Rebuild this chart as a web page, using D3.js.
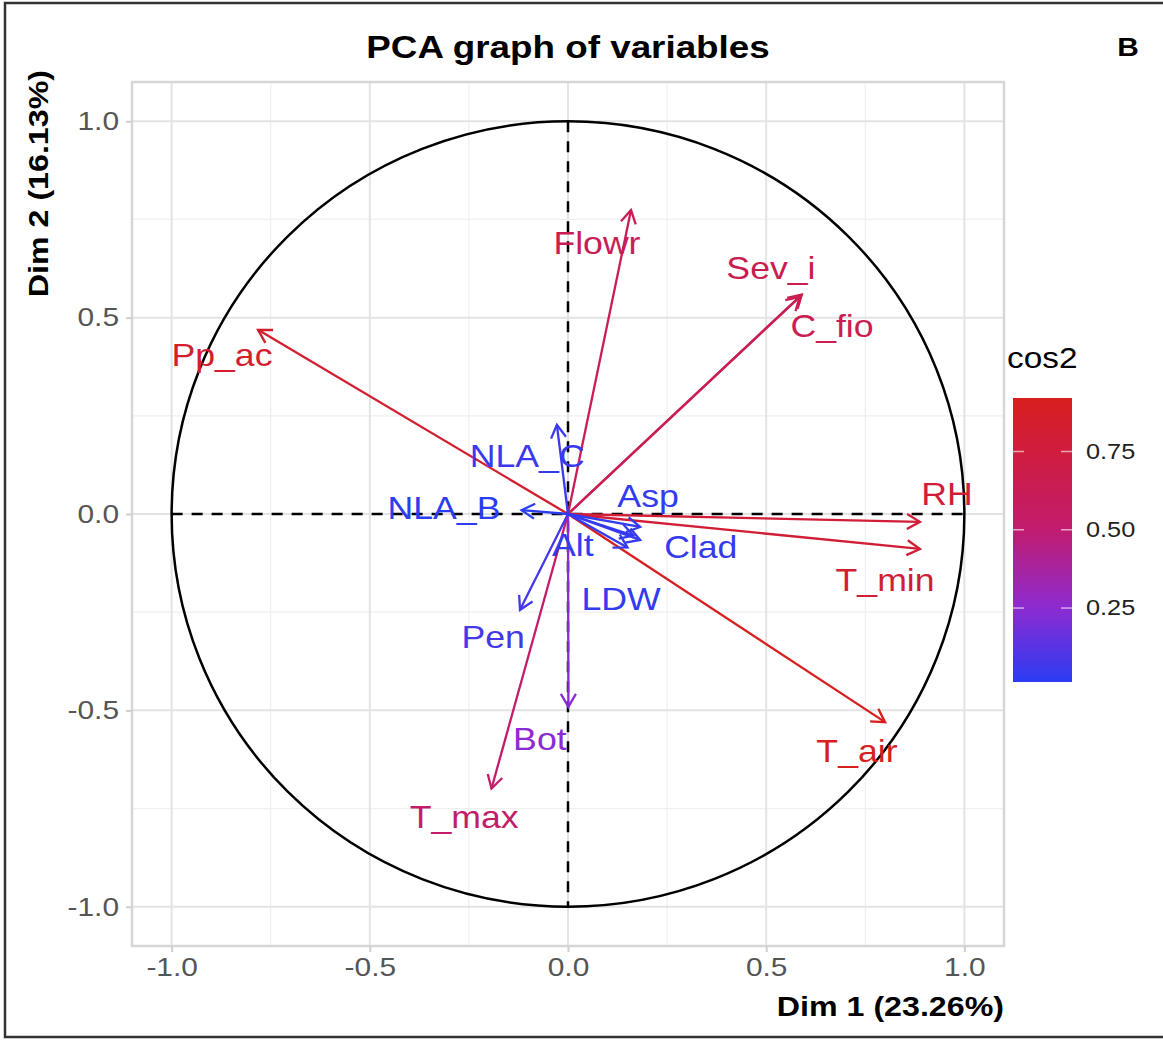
<!DOCTYPE html>
<html>
<head>
<meta charset="utf-8">
<script src="https://cdn.jsdelivr.net/npm/d3@7"></script>
<style>
  body { margin: 0; background: #fff; }
  text { font-family: "Liberation Sans", Arial, sans-serif; }
</style>
</head>
<body>
<div id="container"></div>
<script>
// variables of the PCA (coordinates on Dim 1 / Dim 2)
var variables = ["Pp_ac", "Flowr", "Sev_i", "C_fio", "RH", "T_min", "T_air", "T_max",
                 "Bot", "Pen", "LDW", "Alt", "Clad", "Asp", "NLA_C", "NLA_B"]
var dim1 = [-0.782, 0.159, 0.590, 0.585, 0.888, 0.888, 0.800, -0.193,
            0.001, -0.121, 0.165, 0.150, 0.182, 0.182, -0.028, -0.117]
var dim2 = [0.469, 0.774, 0.559, 0.553, -0.020, -0.089, -0.530, -0.699,
            -0.491, -0.244, -0.055, -0.085, -0.066, -0.033, 0.227, 0.010]
// label positions after repel (data units)
var labelX = [-0.873, 0.073, 0.512, 0.666, 0.956, 0.800, 0.729, -0.262,
              -0.071, -0.189, 0.134, 0.012, 0.335, 0.202, -0.103, -0.313]
var labelY = [0.404, 0.689, 0.625, 0.478, 0.051, -0.168, -0.605, -0.773,
              -0.574, -0.315, -0.216, -0.081, -0.086, 0.046, 0.147, 0.015]

var axisTicks = [-1.0, -0.5, 0.0, 0.5, 1.0]
var minorTicks = [-0.75, -0.25, 0.25, 0.75]
var legendTicks = [0.25, 0.50, 0.75]
// colour ramp (value -> colour)
var rampValues = [0.25, 0.50]
var rampColors = ["#2b3cf2", "#8c2bd2", "#c21c6e", "#d81e1e"]

var W = 1163, H = 1051
var panel = { left: 132, right: 1004, top: 82, bottom: 946 }
var sx = 1.15  // text in the source is a bit wider than Arial

var svg = d3.select("#container").append("svg")
  .attr("width", W).attr("height", H)

var x = d3.scaleLinear().domain([-1.1, 1.1]).range([panel.left, panel.right])
var y = d3.scaleLinear().domain([-1.1, 1.1]).range([panel.bottom, panel.top])
var fmt = function(d) { return d3.format(".1f")(d).replace("\u2212", "-") }

function txt(g, px, py, s, o) {
  o = o || {}
  var t = "translate(" + px + "," + py + ")"
  if (o.rotate) t += " rotate(" + o.rotate + ")"
  t += " scale(" + sx + ",1)"
  return g.append("text")
    .attr("transform", t)
    .attr("font-size", o.size || 26)
    .attr("font-weight", o.bold ? "bold" : "normal")
    .attr("fill", o.fill || "#000")
    .attr("text-anchor", o.anchor || "start")
    .attr("dominant-baseline", o.baseline || "auto")
    .text(s)
}

// cos2 = squared length on the plane
var data = variables.map(function(v, i) {
  return { name: v, x: dim1[i], y: dim2[i], lx: labelX[i], ly: labelY[i],
           cos2: dim1[i] * dim1[i] + dim2[i] * dim2[i] }
})

var cmin = d3.min(data, function(d) { return d.cos2 })
var cmax = d3.max(data, function(d) { return d.cos2 })
var colorOf = d3.scaleLinear()
  .domain([cmin].concat(rampValues, [cmax]))
  .range(rampColors)
  .interpolate(d3.interpolateRgb)

// outer frame
svg.append("rect")
  .attr("x", 5).attr("y", 3).attr("width", W + 10).attr("height", 1034)
  .attr("fill", "none").attr("stroke", "#333").attr("stroke-width", 2.5)

// grid
var grid = svg.append("g")
grid.selectAll(".minx").data(minorTicks).enter().append("line")
  .attr("x1", function(d) { return x(d) }).attr("x2", function(d) { return x(d) })
  .attr("y1", panel.top).attr("y2", panel.bottom)
  .attr("stroke", "#efefef").attr("stroke-width", 1.2)
grid.selectAll(".miny").data(minorTicks).enter().append("line")
  .attr("y1", function(d) { return y(d) }).attr("y2", function(d) { return y(d) })
  .attr("x1", panel.left).attr("x2", panel.right)
  .attr("stroke", "#efefef").attr("stroke-width", 1.2)
grid.selectAll(".majx").data(axisTicks).enter().append("line")
  .attr("x1", function(d) { return x(d) }).attr("x2", function(d) { return x(d) })
  .attr("y1", panel.top).attr("y2", panel.bottom)
  .attr("stroke", "#e3e3e3").attr("stroke-width", 2)
grid.selectAll(".majy").data(axisTicks).enter().append("line")
  .attr("y1", function(d) { return y(d) }).attr("y2", function(d) { return y(d) })
  .attr("x1", panel.left).attr("x2", panel.right)
  .attr("stroke", "#e3e3e3").attr("stroke-width", 2)

// panel border
svg.append("rect")
  .attr("x", panel.left).attr("y", panel.top)
  .attr("width", panel.right - panel.left).attr("height", panel.bottom - panel.top)
  .attr("fill", "none").attr("stroke", "#d6d6d6").attr("stroke-width", 2.5)

// axes (ticks + labels)
var xAxis = svg.append("g").attr("transform", "translate(0," + panel.bottom + ")")
  .call(d3.axisBottom(x).tickValues(axisTicks).tickFormat(fmt).tickSize(6).tickPadding(6))
var yAxis = svg.append("g").attr("transform", "translate(" + panel.left + ",0)")
  .call(d3.axisLeft(y).tickValues(axisTicks).tickFormat(fmt).tickSize(6).tickPadding(7))
;[xAxis, yAxis].forEach(function(a) {
  a.select(".domain").remove()
  a.selectAll(".tick line").attr("stroke", "#cfcfcf").attr("stroke-width", 2)
  a.selectAll(".tick text").attr("font-size", 26).attr("fill", "#555")
    .attr("font-family", "Liberation Sans, Arial, sans-serif")
})
xAxis.selectAll(".tick text").attr("transform", "scale(" + sx + ",1)")
yAxis.selectAll(".tick text").attr("transform", "translate(-13,0) scale(" + sx + ",1) translate(13,0)")

// dashed axes through the origin
svg.append("line")
  .attr("x1", x(-1)).attr("x2", x(1)).attr("y1", y(0)).attr("y2", y(0))
  .attr("stroke", "#000").attr("stroke-width", 2.5).attr("stroke-dasharray", "11,9")
svg.append("line")
  .attr("x1", x(0)).attr("x2", x(0)).attr("y1", y(1)).attr("y2", y(-1))
  .attr("stroke", "#000").attr("stroke-width", 2.5).attr("stroke-dasharray", "11,9")

// correlation circle
svg.append("ellipse")
  .attr("cx", x(0)).attr("cy", y(0))
  .attr("rx", x(1) - x(0)).attr("ry", y(0) - y(1))
  .attr("fill", "none").attr("stroke", "#000").attr("stroke-width", 2.5)

// arrows
var arrows = svg.append("g")
data.forEach(function(d) {
  var c = colorOf(d.cos2)
  var x0 = x(0), y0 = y(0), x1 = x(d.x), y1 = y(d.y)
  var ang = Math.atan2(y1 - y0, x1 - x0)
  var len = 15, spread = Math.PI / 6
  arrows.append("line")
    .attr("x1", x0).attr("y1", y0).attr("x2", x1).attr("y2", y1)
    .attr("stroke", c).attr("stroke-width", 2.3)
  arrows.append("path")
    .attr("d", "M" + (x1 - len * Math.cos(ang - spread)) + "," + (y1 - len * Math.sin(ang - spread)) +
               "L" + x1 + "," + y1 +
               "L" + (x1 - len * Math.cos(ang + spread)) + "," + (y1 - len * Math.sin(ang + spread)))
    .attr("fill", "none").attr("stroke", c).attr("stroke-width", 2.3)
    .attr("stroke-linejoin", "miter")
})

// labels
var labels = svg.append("g")
data.forEach(function(d) {
  txt(labels, x(d.lx), y(d.ly), d.name,
      { size: 31, fill: colorOf(d.cos2), anchor: "middle", baseline: "central" })
})

// titles
txt(svg, (panel.left + panel.right) / 2, 58, "PCA graph of variables", { size: 32, bold: true, anchor: "middle" })
txt(svg, 1128, 56, "B", { size: 26, bold: true, anchor: "middle" })
txt(svg, panel.right, 1016, "Dim 1 (23.26%)", { size: 28, bold: true, anchor: "end" })
txt(svg, 48, panel.top - 12, "Dim 2 (16.13%)", { size: 28, bold: true, anchor: "end", rotate: -90 })

// legend
var leg = { x: 1013, w: 59, top: 398, bottom: 682 }
var ly = d3.scaleLinear().domain([cmin, cmax]).range([leg.bottom, leg.top])
var defs = svg.append("defs")
var lg = defs.append("linearGradient").attr("id", "cosgrad")
  .attr("x1", 0).attr("y1", 1).attr("x2", 0).attr("y2", 0)
d3.range(0, 1.0001, 0.05).forEach(function(t) {
  lg.append("stop").attr("offset", t).attr("stop-color", colorOf(cmin + t * (cmax - cmin)))
})
txt(svg, 1007, 368, "cos2", { size: 29 })
svg.append("rect")
  .attr("x", leg.x).attr("y", leg.top).attr("width", leg.w).attr("height", leg.bottom - leg.top)
  .attr("fill", "url(#cosgrad)")
legendTicks.forEach(function(v) {
  svg.append("line").attr("x1", leg.x).attr("x2", leg.x + 11)
    .attr("y1", ly(v)).attr("y2", ly(v)).attr("stroke", "#fff").attr("stroke-opacity", 0.6).attr("stroke-width", 1.5)
  svg.append("line").attr("x1", leg.x + leg.w - 11).attr("x2", leg.x + leg.w)
    .attr("y1", ly(v)).attr("y2", ly(v)).attr("stroke", "#fff").attr("stroke-opacity", 0.6).attr("stroke-width", 1.5)
  txt(svg, 1086, ly(v), d3.format(".2f")(v), { size: 22, fill: "#222", baseline: "central" })
})
</script>
</body>
</html>
